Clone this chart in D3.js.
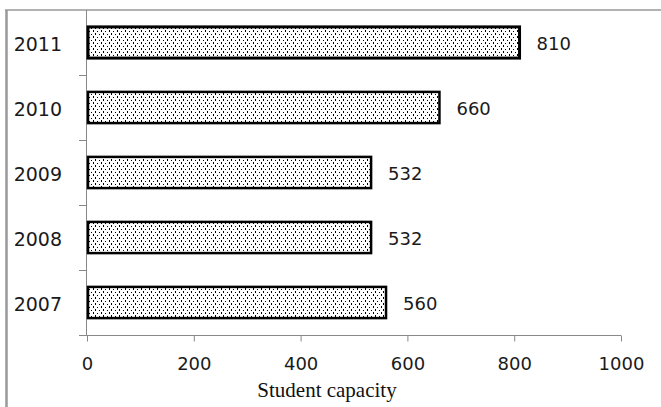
<!DOCTYPE html>
<html>
<head>
<meta charset="utf-8">
<script src="https://cdn.jsdelivr.net/npm/d3@7"></script>
<style>
  body { margin: 0; background: #fff; }
  svg { display: block; }
</style>
</head>
<body>
<div id="chart"></div>
<script>
// data
var years = ["2011", "2010", "2009", "2008", "2007"];
var capacity = [810, 660, 532, 532, 560];
var xTicks = [0, 200, 400, 600, 800, 1000];

var W = 661, H = 407;
var plot = { left: 87, right: 621, top: 10, bottom: 335 };

var svg = d3
  .select("#chart")
  .append("svg")
  .attr("width", W)
  .attr("height", H);

// dotted fill like the original
var defs = svg.append("defs");
var pat = defs
  .append("pattern")
  .attr("id", "dots")
  .attr("patternUnits", "userSpaceOnUse")
  .attr("width", 8)
  .attr("height", 6);
pat.append("rect").attr("width", 8).attr("height", 6).attr("fill", "#fff");
[[1, 1, 1, 1], [5, 0, 1, 2], [3, 4, 1, 1], [7, 3, 1, 2]].forEach(function (p) {
  pat
    .append("rect")
    .attr("x", p[0])
    .attr("y", p[1])
    .attr("width", p[2])
    .attr("height", p[3])
    .attr("fill", "#000");
});

// outer frame (top and left only)
svg
  .append("line")
  .attr("x1", 5).attr("x2", W)
  .attr("y1", 10).attr("y2", 10)
  .attr("stroke", "#999")
  .attr("stroke-width", 1.5);
svg
  .append("line")
  .attr("x1", 6.5).attr("x2", 6.5)
  .attr("y1", 10).attr("y2", H)
  .attr("stroke", "#999")
  .attr("stroke-width", 2.5);

var x = d3.scaleLinear().domain([0, 1000]).range([plot.left, plot.right]);
var y = d3.scaleBand().domain(years).range([plot.top, plot.bottom]).padding(0);
var bw = y.bandwidth();

// y axis line and ticks on band edges
svg
  .append("line")
  .attr("x1", plot.left - 0.5).attr("x2", plot.left - 0.5)
  .attr("y1", plot.top).attr("y2", plot.bottom)
  .attr("stroke", "#888");
years.slice(1).forEach(function (yr) {
  svg
    .append("line")
    .attr("x1", plot.left - 8).attr("x2", plot.left)
    .attr("y1", Math.round(y(yr)) + 0.5).attr("y2", Math.round(y(yr)) + 0.5)
    .attr("stroke", "#888");
});

// x axis
var xAxis = svg
  .append("g")
  .attr("transform", "translate(0," + (plot.bottom + 0.5) + ")")
  .call(
    d3.axisBottom(x)
      .tickValues(xTicks)
      .tickFormat(d3.format("d"))
      .tickSize(6)
      .tickSizeOuter(0)
      .tickPadding(16)
  );
xAxis.select(".domain").remove();
xAxis
  .append("line")
  .attr("x1", plot.left - 8).attr("x2", plot.right)
  .attr("stroke", "#888");
xAxis.selectAll(".tick line").attr("stroke", "#888");
xAxis
  .selectAll(".tick text")
  .attr("fill", "#1a1a1a")
  .style("font-family", "DejaVu Sans")
  .style("font-size", "18px");

// year labels
svg
  .selectAll(".ylab")
  .data(years)
  .enter()
  .append("text")
  .attr("class", "ylab")
  .attr("x", 62)
  .attr("y", function (d) { return y(d) + bw / 2 + 1; })
  .attr("text-anchor", "end")
  .attr("dominant-baseline", "central")
  .attr("fill", "#1a1a1a")
  .style("font-family", "DejaVu Sans")
  .style("font-size", "19px")
  .text(function (d) { return d; });

// bars
var barH = bw * 0.48;
svg
  .selectAll(".bar")
  .data(years)
  .enter()
  .append("rect")
  .attr("class", "bar")
  .attr("x", x(0) + 1)
  .attr("y", function (d) { return y(d) + (bw - barH) / 2; })
  .attr("width", function (d, i) { return x(capacity[i]) - x(0) - 1; })
  .attr("height", barH)
  .attr("fill", "url(#dots)")
  .attr("stroke", "#000")
  .attr("stroke-width", function (d, i) { return i === 0 ? 3 : 2.5; });

// value labels
svg
  .selectAll(".vlab")
  .data(years)
  .enter()
  .append("text")
  .attr("class", "vlab")
  .attr("x", function (d, i) { return x(capacity[i]) + 17; })
  .attr("y", function (d) { return y(d) + bw / 2 + 1; })
  .attr("dominant-baseline", "central")
  .attr("fill", "#1a1a1a")
  .style("font-family", "DejaVu Sans")
  .style("font-size", "18px")
  .text(function (d, i) { return capacity[i]; });

// axis title
svg
  .append("text")
  .attr("x", 327)
  .attr("y", 397)
  .attr("text-anchor", "middle")
  .attr("fill", "#111")
  .style("font-family", "Liberation Serif")
  .style("font-size", "21px")
  .text("Student capacity");
</script>
</body>
</html>
